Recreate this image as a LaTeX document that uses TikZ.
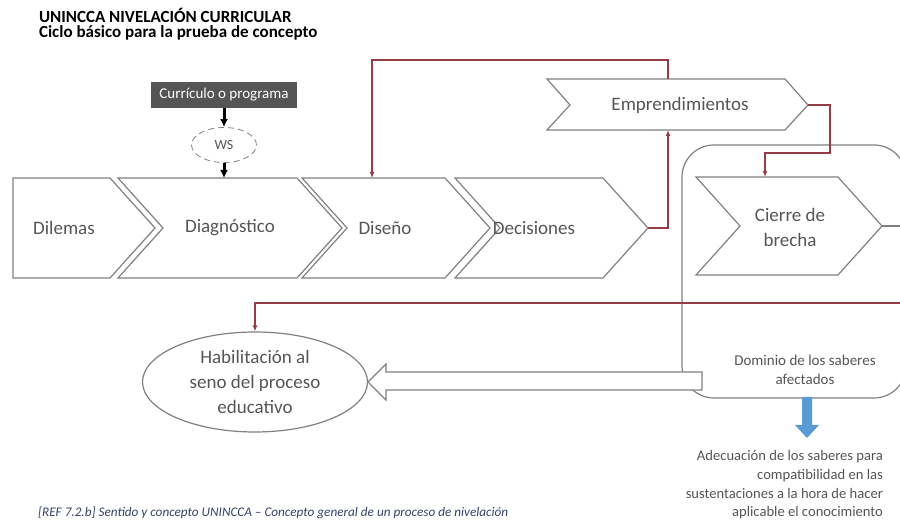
\documentclass[tikz,border=0pt]{standalone}
\usepackage{fontspec}
\setmainfont{Carlito}
\usepackage{tikz}
\usetikzlibrary{arrows.meta, shapes.geometric}
\definecolor{linegray}{RGB}{128,128,128}
\definecolor{txtgray}{RGB}{85,85,85}
\definecolor{connred}{RGB}{150,60,70}
\definecolor{boxgray}{RGB}{85,85,85}
\definecolor{flechazul}{RGB}{91,155,213}
\definecolor{captblue}{RGB}{55,65,105}

\begin{document}
\begin{tikzpicture}[x=0.5pt, y=-0.5pt,
	chev/.style={draw=linegray, line width=0.6pt},
	lbl/.style={text=txtgray, font=\fontsize{9.5}{12.5}\selectfont, align=center},
	conn/.style={draw=connred, line width=0.6pt, -{Latex[length=3pt,width=2.5pt]}}]
	\useasboundingbox (0,0) rectangle (900,528);
	\clip (0,0) rectangle (900,528);
	% titulo
	\node[anchor=west, font=\bfseries\fontsize{8.5}{10}\selectfont] (tit1) at (32,15) {UNINCCA NIVELACIÓN CURRICULAR};
	\node[anchor=west, font=\bfseries\fontsize{8.5}{10}\selectfont] (tit2) at (32,33) {Ciclo básico para la prueba de concepto};
	% entrada
	\node[fill=boxgray, text=white, font=\fontsize{7.5}{9}\selectfont, minimum width=73pt, minimum height=13pt, inner sep=1pt] (cur) at (224,95) {Currículo o programa};
	\node[draw=linegray, densely dashed, ellipse, minimum width=32.5pt, minimum height=17.5pt, inner sep=0pt, font=\fontsize{7}{8}\selectfont, text=txtgray] (ws) at (224,145) {WS};
	% fila de chevrones
	\draw[chev] (13,178) -- (110,178) -- (155,228) -- (110,278) -- (13,278) -- cycle;
	\node[lbl] (dil) at (64,228) {Dilemas};
	\draw[chev] (118,178) -- (297,178) -- (342,228) -- (297,278) -- (118,278) -- (163,228) -- cycle;
	\coordinate (dia n) at (224,178);
	\node[lbl] (dia) at (230,228) {Diagnóstico};
	\draw[chev] (302,178) -- (445,178) -- (490,228) -- (445,278) -- (302,278) -- (347,228) -- cycle;
	\coordinate (dis n) at (372,178);
	\node[lbl] (dis) at (385,228) {Diseño};
	\draw[chev] (455,178) -- (603,178) -- (648,228) coordinate (dec e) -- (603,278) -- (455,278) -- (500,228) -- cycle;
	\node[lbl] (dec) at (534,228) {Decisiones};
	% emprendimientos
	\draw[chev] (547,79) -- (785,79) -- (808,105) coordinate (emp e) -- (785,130) -- (547,130) -- (570,105) -- cycle;
	\coordinate (emp n) at (668,79);
	\coordinate (emp s) at (668,130);
	\node[lbl] (emp) at (680,105) {Emprendimientos};
	% marco de cierre
	\draw[draw=linegray, line width=0.6pt, rounded corners=16pt] (682,145) rectangle (906,398);
	\draw[chev] (696,177) -- (838,177) -- (882,226) coordinate (cie e) -- (838,275) -- (696,275) -- (740,226) -- cycle;
	\coordinate (cie n) at (765,177);
	\node[lbl] (cie) at (790,227) {Cierre de\\brecha};
	% habilitacion
	\node[draw=linegray, ellipse, line width=0.6pt, minimum width=112.5pt, minimum height=50pt, inner sep=0pt, lbl] (hab) at (255,382) {Habilitación al\\seno del proceso\\educativo};
	\draw[draw=linegray, fill=white, line width=0.6pt] (702,372) -- (386,372) -- (386,364) -- (hab.east) -- (386,400) -- (386,390) -- (702,390) -- cycle;
	\node[text=txtgray, font=\fontsize{7.5}{9.5}\selectfont, align=center] (dom) at (805,370) {Dominio de los saberes\\afectados};
	\fill[flechazul] (802,397) -- (812,397) -- (812,425) -- (819,425) -- (807,438) -- (795,425) -- (802,425) -- cycle;
	\node[anchor=east, align=right, text=txtgray, font=\fontsize{7.3}{9.3}\selectfont] (ade) at (890,485) {Adecuación de los saberes para\\compatibilidad en las\\sustentaciones a la hora de hacer\\aplicable el conocimiento};
	% conectores
	\draw[line width=1.5pt, -{Latex[length=4pt,width=4pt]}] (cur) -- (ws);
	\draw[line width=1.5pt, -{Latex[length=4pt,width=4pt]}] (ws) -- (dia n);
	\draw[conn] (emp n) -- ++(0,-19) -| (dis n);
	\draw[conn] (dec e) -| (emp s);
	\draw[conn] (emp e) -| (830,153) -| (cie n);
	\draw[draw=linegray, line width=0.6pt] (cie e) -- (915,226);
	\coordinate (sal) at (915,303);
	\draw[conn] (sal) -| (hab.north);
	% pie
	\node[anchor=west, font=\itshape\fontsize{6.6}{8}\selectfont, text=captblue] (ref) at (31,513) {[REF 7.2.b] Sentido y concepto UNINCCA -- Concepto general de un proceso de nivelación};
\end{tikzpicture}
\end{document}
